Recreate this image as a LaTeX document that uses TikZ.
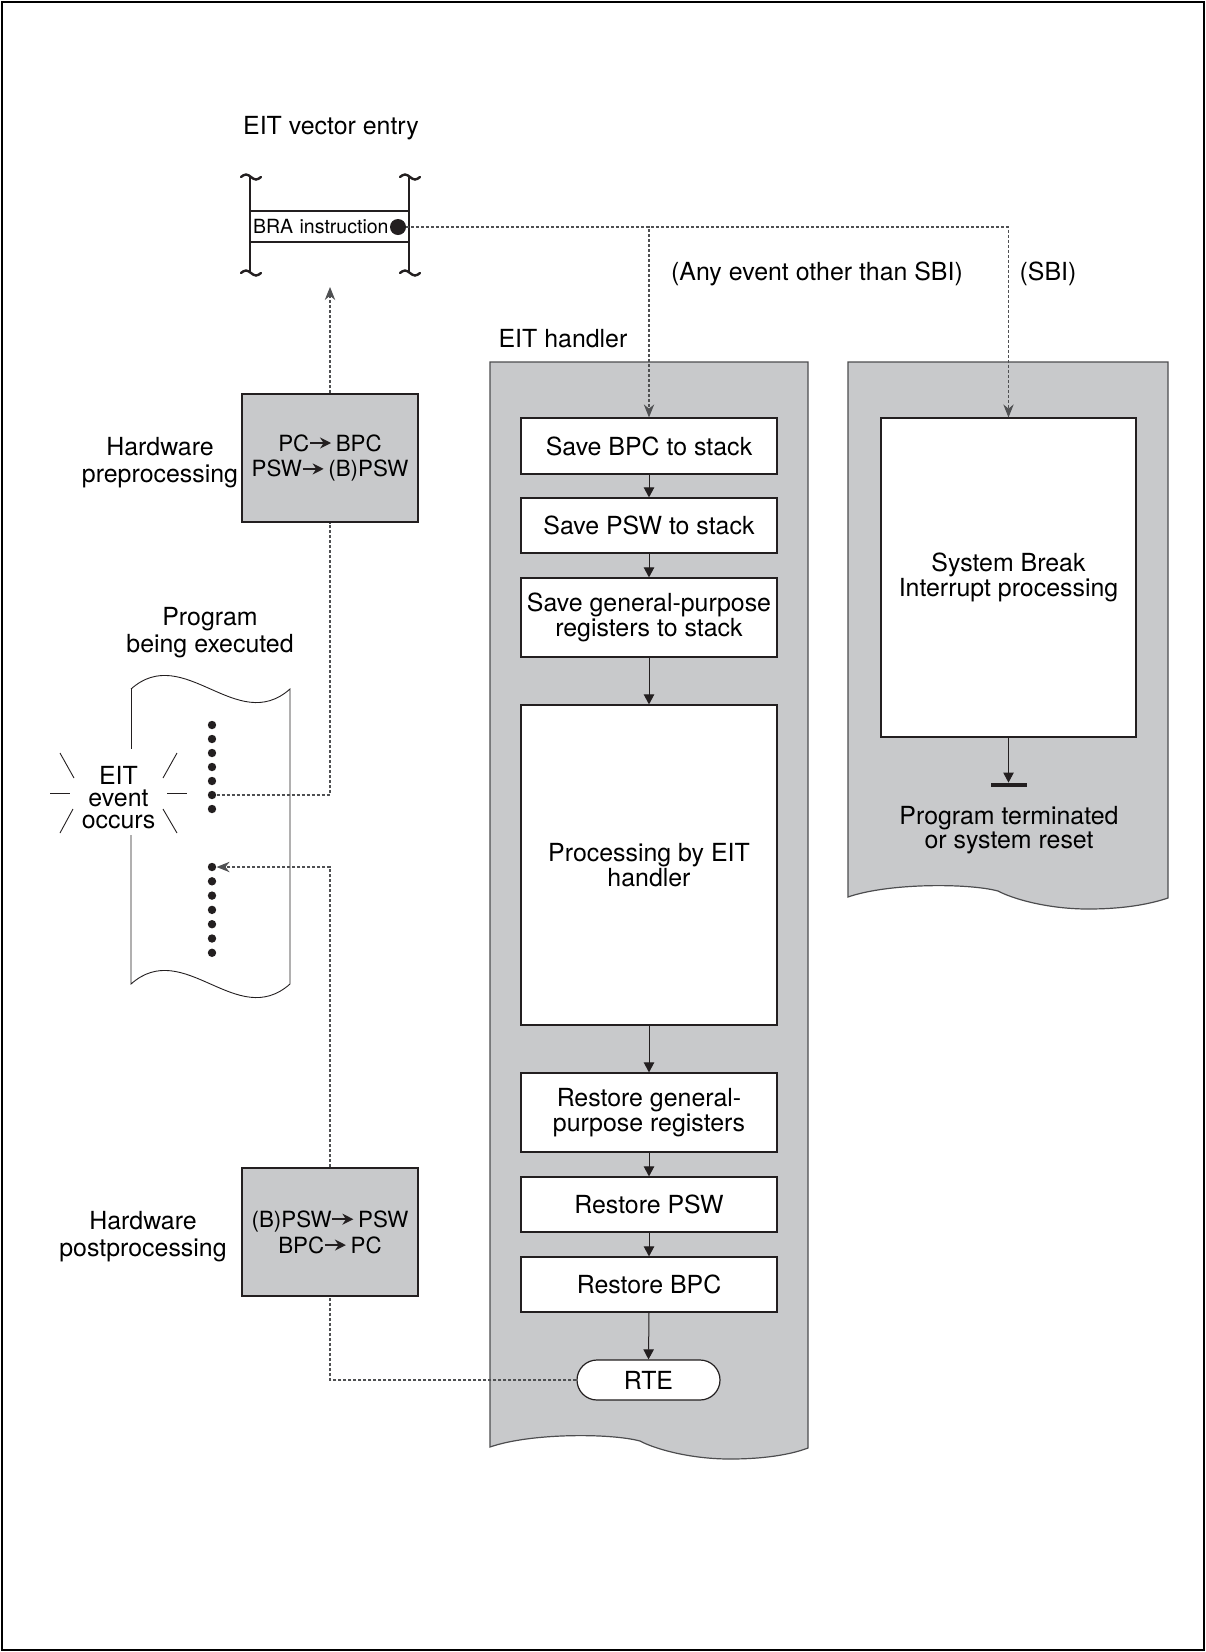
\documentclass[tikz,border=0pt]{standalone}
\usepackage{fontspec}
\setmainfont{TeX Gyre Heros}
\usetikzlibrary{arrows.meta}
\definecolor{Ink}{HTML}{231F20}
\definecolor{Panel}{HTML}{C8C9CB}
\definecolor{PanelLine}{HTML}{4D4D4F}
\definecolor{Trace}{HTML}{4F5052}
\newcommand{\bodyfont}{\fontsize{12.5}{13.5}\selectfont}
\newcommand{\tightfont}{\fontsize{12.5}{11}\selectfont}
\newcommand{\hwfont}{\fontsize{11.2}{13}\selectfont}
\newcommand{\smallfont}{\fontsize{9.8}{11}\selectfont}
\newcommand{\goesto}{\tikz[baseline={(0pt,-4bp)}]\draw[draw=Ink,line width=0.8bp,-{Stealth[length=5.5bp,width=5.5bp]}] (0pt,0pt) -- (10.5bp,0pt);\hspace{2bp}}
\tikzset{
  wire/.style={draw=Ink,line width=0.5bp,-{Triangle[length=5bp,width=5.2bp]}},
  trace/.style={draw=Trace,line width=0.55bp,dash pattern=on 1.5bp off 1bp},
  tip/.style={-{Stealth[length=6.5bp,width=5.2bp]}},
  stepbx/.style={rectangle,draw=Ink,fill=white,line width=0.6bp,font=\tightfont,align=center,minimum width=128bp,inner sep=0pt},
  hwbx/.style={rectangle,draw=Ink,fill=Panel,line width=0.6bp,font=\hwfont,align=center,minimum width=88bp,minimum height=64bp,inner sep=0pt},
  brabx/.style={rectangle,draw=Ink,fill=white,line width=0.6bp,font=\smallfont,text width=76.5bp,inner xsep=1.5bp,inner ysep=0pt,minimum height=15.5bp,align=left},
  lbl/.style={font=\bodyfont,align=center,inner sep=0pt},
  tlbl/.style={font=\tightfont,align=center,inner sep=0pt},
  pdot/.style={circle,fill=Ink,inner sep=0pt,minimum size=4.2bp},
  knob/.style={circle,fill=Ink,inner sep=0pt,minimum size=8bp},
  panel/.style={fill=Panel,draw=PanelLine,line width=0.6bp},
  rail/.style={draw=Ink,line width=0.6bp},
  squig/.style={draw=Ink,line width=1.2bp,line cap=round},
  ray/.style={draw=Ink,line width=0.45bp},
}
\begin{document}
\begin{tikzpicture}[x=5bp,y=-5bp]
\useasboundingbox (0,0) rectangle (120.6,165.2);
\draw[line width=1bp] (0.2,0.2) rectangle (120.4,165.0);
% Handler panels with a torn lower edge.
\foreach \px/\pw/\pb in {49.0/31.8/144.7,84.8/32.0/89.7}
  \filldraw[panel] (\px,36.2) -- (\px,\pb) .. controls (\px+4,\pb-1.4) and (\px+12,\pb-1.4) .. (\px+15,\pb-0.6)
    .. controls (\px+16.5,\pb+0.2) and (\px+20,\pb+1.2) .. (\px+24,\pb+1.2)
    .. controls (\px+28,\pb+1.2) and (\px+30.5,\pb+0.6) .. (\px+\pw,\pb+0.1) -- (\px+\pw,36.2) -- cycle;
% Vector table slice.
\node[lbl] (vtitle) at (33.1,12.8) {EIT vector entry};
\draw[rail] (25.0,17.7) -- (25.0,27.3);
\draw[rail] (40.9,17.7) -- (40.9,27.3);
\foreach \tx/\ty in {25.1/17.7,25.1/27.3,41.0/17.7,41.0/27.3}
  \draw[squig] (\tx-1.0,\ty) sin ++(0.5,-0.25) cos ++(0.5,0.25) sin ++(0.5,0.25) cos ++(0.5,-0.25);
\node[brabx] (bra) at (32.95,22.65) {BRA instruction};
\node[knob] (dot) at (39.8,22.7) {};
\coordinate (vtip) at (33.0,28.7);
\node[lbl] (anylbl) at (81.7,27.4) {(Any event other than SBI)};
\node[lbl] (sbilbl) at (104.8,27.4) {(SBI)};
\node[lbl] (hdlr) at (56.3,33.9) {EIT handler};
% Handler steps.
\node[stepbx,minimum height=28bp] (bpc) at (64.9,44.6) {Save BPC to stack};
\node[stepbx,minimum height=27.5bp] (psw) at (64.9,52.55) {Save PSW to stack};
\node[stepbx,minimum height=39.5bp] (gpr) at (64.9,61.75) {Save general-purpose\\registers to stack};
\node[stepbx,minimum height=160bp] (proc) at (64.9,86.5) {Processing by EIT\\handler};
\node[stepbx,minimum height=39.5bp] (rgpr) at (64.9,111.25) {Restore general-\\purpose registers};
\node[stepbx,minimum height=27.5bp] (rpsw) at (64.9,120.45) {Restore PSW};
\node[stepbx,minimum height=27.5bp] (rbpc) at (64.9,128.45) {Restore BPC};
\node[stepbx,minimum width=71.5bp,minimum height=20bp,rounded corners=10bp,font=\bodyfont] (rte) at (64.85,138.0) {RTE};
\foreach \a/\b in {bpc/psw,psw/gpr,gpr/proc,proc/rgpr,rgpr/rpsw,rpsw/rbpc,rbpc/rte}
  \draw[wire] (\a.south) -- (\b.north);
% SBI branch.
\node[stepbx,minimum width=127.5bp,minimum height=159.5bp] (sbi) at (100.85,57.75) {System Break\\Interrupt processing};
\node[rectangle,fill=Ink,inner sep=0pt,minimum width=18bp,minimum height=2bp] (stop) at (100.85,78.5) {};
\draw[wire] (sbi.south) -- (stop.north);
\node[tlbl] (endlbl) at (100.9,83.0) {Program terminated\\or system reset};
% Hardware steps.
\node[hwbx] (pre) at (33.0,45.8) {PC\goesto BPC\\PSW\goesto(B)PSW};
\node[lbl] (prelbl) at (16.0,46.3) {Hardware\\preprocessing};
\node[hwbx] (post) at (33.0,123.2) {(B)PSW\goesto PSW\\BPC\goesto PC};
\node[lbl] (postlbl) at (14.3,123.7) {Hardware\\postprocessing};
% Program strip.
\node[lbl] (proglbl) at (21.0,63.3) {Program\\being executed};
\draw[ray] (13.1,68.9) .. controls (18.4,64.2) and (23.7,73.6) .. (29.0,68.9) -- (29.0,98.4)
  .. controls (23.7,103.1) and (18.4,93.7) .. (13.1,98.4) -- (13.1,83.5);
\draw[ray] (13.1,68.9) -- (13.1,74.9);
\foreach \i in {1,...,7} {
  \node[pdot] (u\i) at (21.2,{71.1+1.4*\i}) {};
  \node[pdot] (l\i) at (21.2,{85.27+1.43*\i}) {};
}
\node[tlbl] (evtlbl) at (11.85,79.8) {EIT\\event\\occurs};
\foreach \ax/\ay/\bx/\by in {6.0/75.3/7.4/77.8,17.7/75.3/16.3/77.8,5.0/79.3/7.0/79.3,16.7/79.3/18.7/79.3,6.0/83.3/7.3/80.9,17.7/83.3/16.3/80.9}
  \draw[ray] (\ax,\ay) -- (\bx,\by);
% Dotted control flow.
\draw[trace] (u6.east) -| (pre.south);
\draw[trace,tip] (pre.north) -- (vtip);
\draw[trace,tip] (dot.east) -| (sbi.north);
\draw[trace,tip] (dot.east) -| (bpc.north);
\draw[trace] (rte.west) -| (post.south);
\draw[trace,tip] (post.north) |- (l1.east);
\end{tikzpicture}
\end{document}
